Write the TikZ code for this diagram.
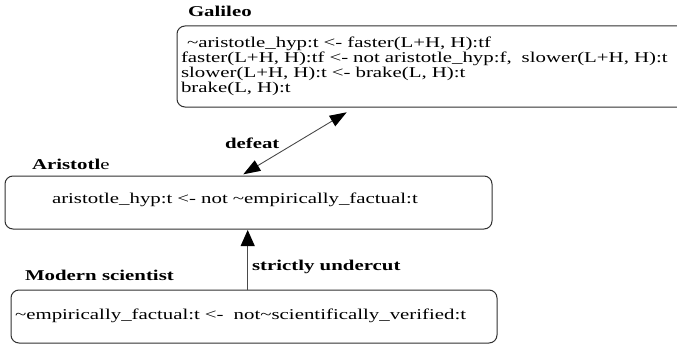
\documentclass[tikz,border=0pt]{standalone}
\usepackage{fontspec}
\setmainfont{Liberation Serif}[FakeStretch=1.39]
\usetikzlibrary{arrows.meta}
\definecolor{boxgray}{HTML}{303030}
\definecolor{linegray}{HTML}{4A4A4A}
\begin{document}
\begin{tikzpicture}[x=1pt,y=-1pt,
  every node/.style={font=\fontsize{15}{15}\selectfont, inner sep=0pt, outer sep=0pt},
  rulebox/.style={draw=boxgray, line width=1pt, rounded corners=8pt, anchor=north west, align=left},
  agent/.style={font=\fontsize{15}{15}\selectfont\bfseries, anchor=base west},
  rel/.style={draw=linegray, line width=0.9pt},
  bigtip/.style={-{Triangle[length=16pt,width=14pt,color=black]}},
  dbltip/.style={{Triangle[length=17pt,width=12pt,color=black]}-{Triangle[length=17pt,width=12pt,color=black]}}
]
\useasboundingbox (0,0) rectangle (677,345);
\clip (0,0) rectangle (677,345);

\node[rulebox, minimum width=560pt, minimum height=81pt, text width=552pt, inner xsep=4pt] (galileo) at (177,26)
  {\hspace*{6pt}\textasciitilde aristotle\_hyp:t <- faster(L+H, H):tf\\
   faster(L+H, H):tf <- not aristotle\_hyp:f,\ \ slower(L+H, H):t\\
   slower(L+H, H):t <- brake(L, H):t\\
   brake(L, H):t};

\node[rulebox, minimum width=487pt, minimum height=53pt, text width=393pt, inner xsep=47pt,
      text height=10pt, text depth=8.4pt] (aristotle) at (5,176)
  {aristotle\_hyp:t <- not \textasciitilde empirically\_factual:t};

\node[rulebox, minimum width=486pt, minimum height=53pt, text width=478pt, inner xsep=4pt,
      text height=10pt, text depth=4.2pt] (modern) at (11,290)
  {\textasciitilde empirically\_factual:t <-\ \ not\textasciitilde scientifically\_verified:t};

\node[agent] (lgalileo) at (188,17) {Galileo};
\node[agent] (laristotle) at (32,169) {{\bfseries Aristotl}\mdseries e};
\node[agent] (lmodern) at (25,280) {Modern scientist};
\node[agent] (ldefeat) at (225,148) {defeat};
\node[agent] (lundercut) at (252,270) {strictly undercut};

\draw[rel, dbltip] ([shift={(238.3,-1.7)}]aristotle.north west) -- ([shift={(169.7,5.3)}]galileo.south west);
\draw[rel, bigtip] ([shift={(236.7,0)}]modern.north west) -- ([shift={(242.7,1)}]aristotle.south west);
\end{tikzpicture}
\end{document}
